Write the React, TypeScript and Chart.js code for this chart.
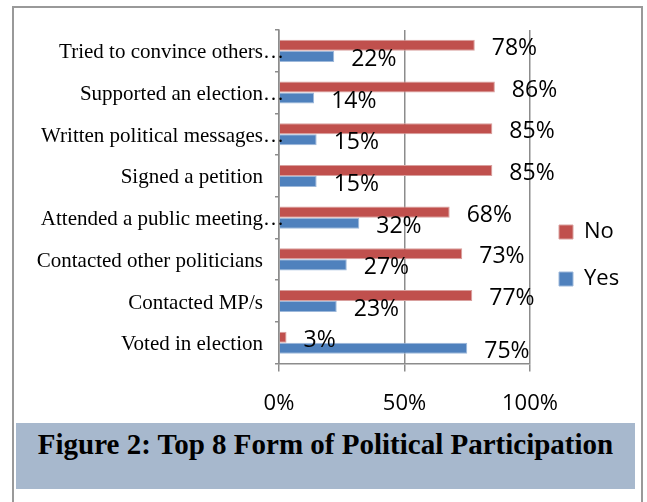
import React, { useEffect, useRef } from "react";
import { Chart, registerables } from "chart.js";

Chart.register(...registerables);

const categories = [
  "Tried to convince others",
  "Supported an election",
  "Written political messages",
  "Signed a petition",
  "Attended a public meeting",
  "Contacted other politicians",
  "Contacted MP/s",
  "Voted in election",
];
const truncated = [true, true, true, false, true, false, false, false];
const seriesNames = ["No", "Yes"];
const noValues = [78, 86, 85, 85, 68, 73, 77, 3];
const yesValues = [22, 14, 15, 15, 32, 27, 23, 75];
const xTickValues = [0, 50, 100];
const caption = "Figure 2: Top 8 Form of Political Participation";

const SANS = '"Open Sans", "Liberation Sans", sans-serif';
const SERIF = '"Liberation Serif", "Times New Roman", serif';

const categoryLabelPlugin = {
  id: "categoryLabels",
  afterDraw(chart: any) {
    const { ctx, chartArea } = chart;
    const yScale = chart.scales.y;
    ctx.save();
    ctx.font = `21px ${SERIF}`;
    ctx.fillStyle = "#000";
    ctx.textBaseline = "middle";
    const x = chartArea.left - 16;
    categories.forEach((c, i) => {
      const py = yScale.getPixelForValue(i) + 2;
      ctx.textAlign = "right";
      ctx.fillText(c, x, py);
      if (truncated[i]) {
        ctx.textAlign = "left";
        ctx.fillText("\u2026", x, py);
      }
    });
    ctx.restore();
  },
};

const valueLabelPlugin = {
  id: "valueLabels",
  afterDatasetsDraw(chart: any) {
    const { ctx } = chart;
    ctx.save();
    ctx.font = `23px ${SANS}`;
    ctx.fillStyle = "#000";
    ctx.textAlign = "left";
    ctx.textBaseline = "middle";
    chart.data.datasets.forEach((ds: any, d: number) => {
      const meta = chart.getDatasetMeta(d);
      meta.data.forEach((el: any, i: number) => {
        ctx.fillText(ds.data[i] + "%", el.x + 17, el.y + 3);
      });
    });
    ctx.restore();
  },
};

const legendShiftPlugin = {
  id: "legendShift",
  afterLayout(chart: any) {
    if (chart.legend) {
      chart.legend.left += 4;
      chart.legend.right += 4;
    }
  },
};

export default function App() {
  const canvasRef = useRef<HTMLCanvasElement | null>(null);

  useEffect(() => {
    document.body.style.overflow = "hidden";
    let chart: Chart | null = null;
    let cancelled = false;
    const make = () => {
      if (cancelled || !canvasRef.current) return;
      chart = new Chart(canvasRef.current, {
        type: "bar",
        data: {
          labels: categories,
          datasets: [
            {
              label: seriesNames[0],
              data: noValues,
              backgroundColor: "#C0504D",
              borderColor: "#D9A09E",
              borderWidth: 1,
              categoryPercentage: 0.53,
              barPercentage: 1,
            },
            {
              label: seriesNames[1],
              data: yesValues,
              backgroundColor: "#4F81BD",
              borderColor: "#9DB8DA",
              borderWidth: 1,
              categoryPercentage: 0.53,
              barPercentage: 1,
            },
          ],
        },
        options: {
          indexAxis: "y",
          animation: false,
          responsive: false,
          devicePixelRatio: 1,
          layout: { padding: { left: 262, top: 22, right: 25, bottom: 0 } },
          scales: {
            x: {
              min: 0,
              max: 100,
              afterBuildTicks: (s: any) => {
                s.ticks = xTickValues.map((v) => ({ value: v }));
              },
              ticks: {
                callback: (v: any) => v + "%",
                font: { family: SANS, size: 22 },
                color: "#000",
                padding: 19,
                maxRotation: 0,
              },
              grid: {
                color: "#8C8C8C",
                lineWidth: 1.5,
                tickLength: 8,
                drawOnChartArea: true,
              },
              border: { color: "#8C8C8C", width: 1.5 },
            },
            y: {
              ticks: { display: false },
              grid: {
                color: "#8C8C8C",
                lineWidth: 1.5,
                tickLength: 4,
                drawOnChartArea: false,
                offset: true,
              },
              border: { color: "#8C8C8C", width: 1.5 },
            },
          },
          plugins: {
            legend: {
              position: "right",
              align: "start",
              title: {
                display: true,
                text: " ",
                font: { size: 10, lineHeight: 1 },
                padding: { top: 0, bottom: 156 },
              },
              labels: {
                boxWidth: 14,
                boxHeight: 14,
                padding: 25,
                color: "#000",
                font: { family: SANS, size: 22 },
              },
            },
            tooltip: { enabled: false },
          },
        },
        plugins: [categoryLabelPlugin, valueLabelPlugin, legendShiftPlugin],
      } as any);
    };
    const fontsApi = (document as any).fonts;
    if (fontsApi && fontsApi.load) {
      Promise.all([
        fontsApi.load(`22px "Open Sans"`),
        fontsApi.load(`21px "Liberation Serif"`),
      ])
        .catch(() => {})
        .then(make);
    } else {
      make();
    }
    return () => {
      cancelled = true;
      if (chart) chart.destroy();
    };
  }, []);

  return (
    <div>
      <div
        style={{
          position: "absolute",
          left: 12,
          top: 6,
          width: 631,
          height: 496,
          boxSizing: "border-box",
          borderTop: "2px solid #999",
          borderLeft: "2px solid #999",
          borderRight: "2px solid #999",
          background: "#fff",
        }}
      />
      <canvas
        ref={canvasRef}
        width={627}
        height={428}
        style={{ position: "absolute", left: 13, top: 8, width: 627, height: 428, display: "block" }}
      />
      <div
        style={{
          position: "absolute",
          left: 16,
          top: 423,
          width: 619,
          height: 66,
          boxSizing: "border-box",
          background: "#A7B8CD",
          textAlign: "center",
          fontFamily: SERIF,
          fontWeight: "bold",
          fontSize: 29,
          lineHeight: "32px",
          paddingTop: 5,
          color: "#000",
          whiteSpace: "nowrap",
        }}
      >
        {caption}
      </div>
    </div>
  );
}
